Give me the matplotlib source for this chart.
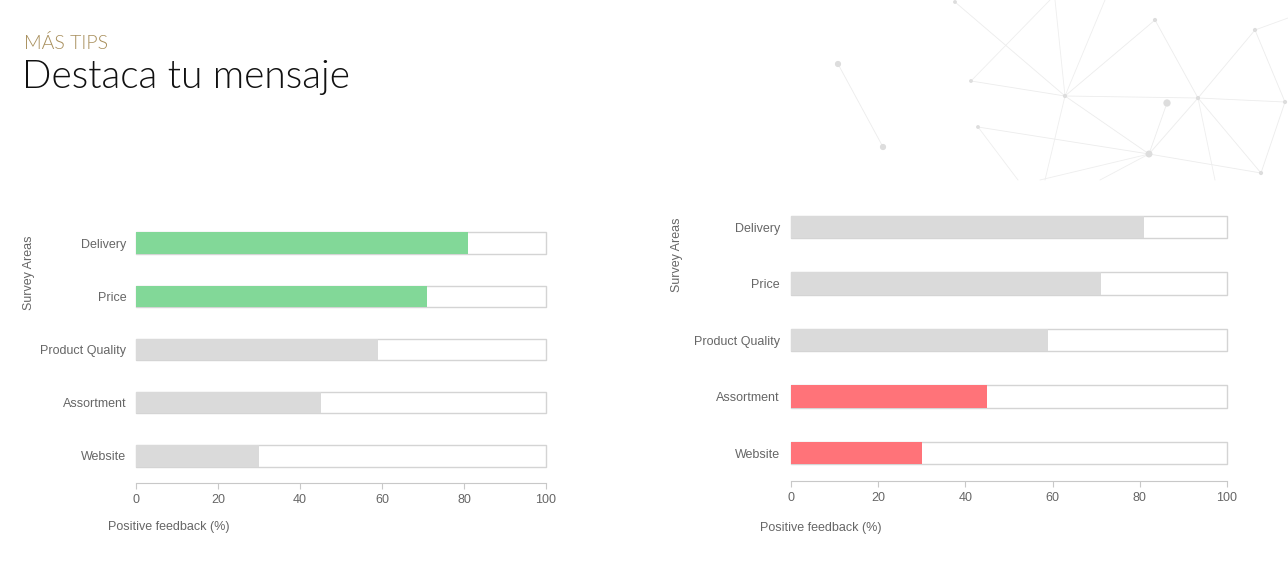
"""
Two horizontal bar charts: same survey data, different highlight.
"""

import matplotlib.pyplot as plt

areas = ["Delivery", "Price", "Product Quality", "Assortment", "Website"]
feedback = [81, 71, 59, 45, 30]
highlight_left = [True, True, False, False, False]
highlight_right = [False, False, False, True, True]
x_ticks = [0, 20, 40, 60, 80, 100]

GREEN = "#82d898"
RED = "#ff7379"
GREY = "#dadada"
TXT = "#666666"

# faint network decoration in the top right (pixel coords)
nodes = [(838, 64), (883, 147), (955, 2), (971, 81), (978, 127), (1065, 96),
         (1155, 20), (1167, 103), (1198, 98), (1149, 154), (1255, 30),
         (1285, 102), (1261, 173)]
node_sizes = [12, 12, 3, 3, 3, 4, 4, 18, 4, 16, 4, 4, 4]
edges = [(0, 1), (2, 5), (3, 5), (5, 8), (8, 11), (6, 8), (8, 10), (8, 9),
         (8, 12), (9, 4), (9, 12), (9, 7), (11, 12), (5, 9), (6, 5), (10, 11)]
loose_edges = [((971, 81), (1050, 0)), ((1065, 96), (1055, 0)),
               ((1065, 96), (1105, 0)), ((1255, 30), (1288, 18)),
               ((978, 127), (1018, 180)), ((1149, 154), (1040, 180)),
               ((1149, 154), (1100, 180)), ((1198, 98), (1215, 180)),
               ((1065, 96), (1045, 180))]


def draw_chart(fig, rect, colors, label_pad):
    ax = fig.add_axes(rect)
    y = list(range(len(areas)))[::-1]
    bg = ax.barh(y, [100] * len(areas), height=0.4, color="white",
                 edgecolor="#d4d4d4", linewidth=1, zorder=1)
    for p in bg:
        p.set_clip_on(False)
    ax.barh(y, feedback, height=0.4, color=colors, linewidth=0, zorder=2)
    ax.set_xlim(0, 100)
    ax.set_ylim(-0.5, len(areas) - 0.5)
    ax.set_yticks(y)
    ax.set_yticklabels(areas)
    ax.set_xticks(x_ticks)
    for s in ["top", "right", "left"]:
        ax.spines[s].set_visible(False)
    ax.spines["bottom"].set_color("#c8c8c8")
    ax.tick_params(axis="y", length=0, pad=label_pad, labelsize=9, labelcolor=TXT)
    ax.tick_params(axis="x", length=4, color="#c8c8c8", labelsize=9,
                   labelcolor=TXT, pad=4)
    return ax


def main() -> None:
    plt.rcParams["font.family"] = ["Liberation Sans", "DejaVu Sans"]
    fig = plt.figure(figsize=(12.88, 5.86), dpi=100)
    W, H = 1288, 586

    deco = fig.add_axes([0, 0, 1, 1], zorder=-1)
    deco.set_xlim(0, W)
    deco.set_ylim(H, 0)
    deco.axis("off")
    for a, b in edges:
        deco.plot([nodes[a][0], nodes[b][0]], [nodes[a][1], nodes[b][1]],
                  color="#ececec", lw=0.6)
    for p, q in loose_edges:
        deco.plot([p[0], q[0]], [p[1], q[1]], color="#eeeeee", lw=0.6)
    deco.scatter([n[0] for n in nodes], [n[1] for n in nodes], s=node_sizes,
                 color="#dddddd", zorder=3)

    fig.text(24 / W, 1 - 43 / H, "MÁS TIPS", family="Lato", fontsize=14,
             color="#a88f5c", va="center", ha="left", fontweight=300)
    fig.text(22 / W, 1 - 77 / H, "Destaca tu mensaje", family="Lato",
             fontsize=28, color="#111111", va="center", ha="left",
             fontweight=300)

    left_colors = [GREEN if h else GREY for h in highlight_left]
    right_colors = [RED if h else GREY for h in highlight_right]

    draw_chart(fig, [136 / W, 1 - 482.6 / H, 410 / W, 266.2 / H], left_colors, 7)
    draw_chart(fig, [791 / W, 1 - 481.3 / H, 436 / W, 282.5 / H], right_colors, 8)

    fig.text(29 / W, 1 - 235 / H, "Survey Areas", rotation=90, fontsize=9,
             color=TXT, va="top", ha="center")
    fig.text(677 / W, 1 - 218 / H, "Survey Areas", rotation=90, fontsize=9,
             color=TXT, va="top", ha="center")
    fig.text(108 / W, 1 - 527 / H, "Positive feedback (%)", fontsize=9,
             color=TXT, va="center", ha="left")
    fig.text(760 / W, 1 - 528 / H, "Positive feedback (%)", fontsize=9,
             color=TXT, va="center", ha="left")

    fig.savefig("out.png", dpi=100)


if __name__ == "__main__":
    main()
